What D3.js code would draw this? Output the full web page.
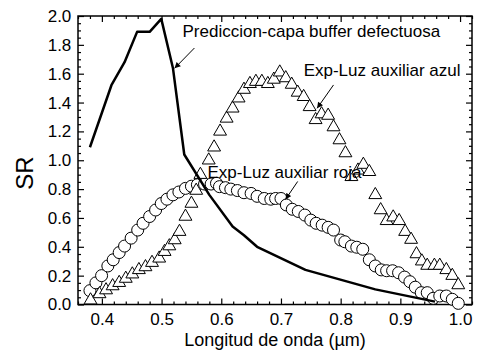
<!DOCTYPE html>
<html>
<head>
<meta charset="utf-8">
<script src="https://cdn.jsdelivr.net/npm/d3@7"></script>
<style>
  body { margin: 0; background: #fff; }
  text { font-family: "Liberation Sans", Arial, sans-serif; fill: #000; }
</style>
</head>
<body>
<div id="chart"></div>
<script>
// Prediccion-capa buffer defectuosa (line)
var pred_wl = [0.38, 0.416, 0.438, 0.459, 0.48, 0.4995, 0.519, 0.538, 0.58, 0.619, 0.638, 0.66, 0.741, 0.81, 0.858, 0.958];
var pred_sr = [1.09, 1.52, 1.68, 1.89, 1.89, 1.98, 1.64, 1.04, 0.76, 0.54, 0.48, 0.40, 0.24, 0.16, 0.105, 0.02];

// Exp-Luz auxiliar azul (triangles)
var azul_wl = [0.381, 0.396, 0.407, 0.418, 0.429, 0.44, 0.451, 0.462, 0.473, 0.484, 0.496, 0.505, 0.513,
	       0.522, 0.53, 0.54, 0.55, 0.558, 0.565, 0.579, 0.588, 0.598, 0.609, 0.619, 0.629, 0.638,
	       0.648, 0.658, 0.668, 0.678, 0.688, 0.698, 0.708, 0.718, 0.728, 0.738, 0.748, 0.758,
	       0.768, 0.779, 0.788, 0.798, 0.808, 0.818, 0.829, 0.838, 0.848, 0.858, 0.867, 0.877,
	       0.888, 0.898, 0.908, 0.918, 0.927, 0.936, 0.945, 0.957, 0.966, 0.977, 0.987, 0.997];
var azul_sr = [0.03, 0.073, 0.10, 0.128, 0.151, 0.18, 0.21, 0.24, 0.26, 0.29, 0.32, 0.366, 0.405,
	       0.447, 0.505, 0.61, 0.70, 0.79, 0.90, 1.00, 1.09, 1.20, 1.29, 1.36, 1.43, 1.49,
	       1.53, 1.545, 1.545, 1.53, 1.56, 1.61, 1.57, 1.525, 1.47, 1.44, 1.37, 1.28,
	       1.32, 1.31, 1.23, 1.14, 1.05, 0.885, 0.93, 0.97, 0.92, 0.76, 0.655, 0.58,
	       0.605, 0.58, 0.505, 0.45, 0.35, 0.30, 0.27, 0.27, 0.27, 0.24, 0.20, 0.135];

// Exp-Luz auxiliar roja (circles)
var roja_wl = [0.38, 0.39, 0.3995, 0.41, 0.419, 0.429, 0.438, 0.449, 0.46, 0.469, 0.48, 0.49, 0.4995,
	       0.509, 0.519, 0.529, 0.54, 0.55, 0.56, 0.572, 0.583, 0.592, 0.597, 0.607, 0.616, 0.627,
	       0.638, 0.65, 0.66, 0.672, 0.683, 0.691, 0.70, 0.709, 0.719, 0.729, 0.74, 0.75, 0.759,
	       0.769, 0.779, 0.788, 0.80, 0.807, 0.818, 0.827, 0.837, 0.848, 0.858, 0.868, 0.877,
	       0.887, 0.897, 0.907, 0.916, 0.925, 0.935, 0.945, 0.955, 0.966, 0.977, 0.987, 0.997];
var roja_sr = [0.096, 0.15, 0.20, 0.267, 0.31, 0.36, 0.405, 0.46, 0.516, 0.563, 0.61, 0.655, 0.70,
	       0.73, 0.76, 0.78, 0.805, 0.82, 0.83, 0.835, 0.835, 0.84, 0.817, 0.81, 0.80, 0.79,
	       0.775, 0.77, 0.75, 0.735, 0.73, 0.735, 0.735, 0.69, 0.66, 0.645, 0.62, 0.585, 0.563,
	       0.55, 0.535, 0.516, 0.447, 0.435, 0.405, 0.397, 0.383, 0.31, 0.267, 0.24, 0.234,
	       0.234, 0.22, 0.19, 0.158, 0.12, 0.082, 0.082, 0.043, 0.059, 0.059, 0.036, 0.008];

var x_ticks = [0.4, 0.5, 0.6, 0.7, 0.8, 0.9, 1.0];
var y_ticks = [0.0, 0.2, 0.4, 0.6, 0.8, 1.0, 1.2, 1.4, 1.6, 1.8, 2.0];

// annotations: text anchor and arrow (from -> to) in data units
var notes = [
    {label: "Prediccion-capa buffer defectuosa", tx: 0.535, ty: 1.857, x1: 0.555, y1: 1.778, x2: 0.5217, y2: 1.637},
    {label: "Exp-Luz auxiliar azul", tx: 0.738, ty: 1.584, x1: 0.788, y1: 1.522, x2: 0.7605, y2: 1.36},
    {label: "Exp-Luz auxiliar roja", tx: 0.577, ty: 0.875, x1: 0.728, y1: 0.853, x2: 0.7075, y2: 0.728}
];

var W = 477, H = 352;
var margin = {top: 16, right: 5, bottom: 47.5, left: 78};
var width = W - margin.left - margin.right;
var height = H - margin.top - margin.bottom;

var svg = d3.select("#chart")
    .append("svg")
    .attr("width", W)
    .attr("height", H);

svg.append("defs")
    .append("marker")
    .attr("id", "arrow")
    .attr("viewBox", "0 0 10 10")
    .attr("refX", 10)
    .attr("refY", 5)
    .attr("markerWidth", 7)
    .attr("markerHeight", 6)
    .attr("markerUnits", "userSpaceOnUse")
    .attr("orient", "auto")
    .append("path")
    .attr("d", "M0,0 L10,5 L0,10 Z")
    .attr("fill", "#000");

var g = svg.append("g")
    .attr("transform", "translate(" + margin.left + "," + margin.top + ")");

var x = d3.scaleLinear().domain([0.36, 1.02]).range([0, width]);
var y = d3.scaleLinear().domain([0, 2]).range([height, 0]);

var minor_x = d3.range(0.36, 1.021, 0.02).filter(v => Math.abs(v * 10 - Math.round(v * 10)) > 0.01);
var minor_y = d3.range(0.05, 2.0, 0.05).filter(v => Math.abs(v * 5 - Math.round(v * 5)) > 0.01);

function axis_ticks(axis, vals, size) {
    return axis.tickValues(vals).tickSizeInner(size).tickSizeOuter(0).tickPadding(5);
}

// bottom
g.append("g")
    .attr("transform", "translate(0," + height + ")")
    .call(axis_ticks(d3.axisBottom(x), x_ticks, -6).tickFormat(d3.format(".1f")))
    .call(a => a.selectAll("text").attr("font-size", 17).attr("dy", "0.9em"));
g.append("g")
    .attr("transform", "translate(0," + height + ")")
    .call(axis_ticks(d3.axisBottom(x), minor_x, -3).tickFormat(""));
// top
g.append("g")
    .call(axis_ticks(d3.axisTop(x), x_ticks, -6).tickFormat(""));
g.append("g")
    .call(axis_ticks(d3.axisTop(x), minor_x, -3).tickFormat(""));
// left
g.append("g")
    .call(axis_ticks(d3.axisLeft(y), y_ticks, -6).tickFormat(d3.format(".1f")))
    .call(a => a.selectAll("text").attr("font-size", 17).attr("dx", "-0.1em"));
g.append("g")
    .call(axis_ticks(d3.axisLeft(y), minor_y, -3).tickFormat(""));
// right
g.append("g")
    .attr("transform", "translate(" + width + ",0)")
    .call(axis_ticks(d3.axisRight(y), y_ticks, -6).tickFormat(""));
g.append("g")
    .attr("transform", "translate(" + width + ",0)")
    .call(axis_ticks(d3.axisRight(y), minor_y, -3).tickFormat(""));

g.selectAll(".domain").remove();
g.selectAll(".tick line").attr("stroke", "#000").attr("stroke-width", 1.2);

g.append("rect")
    .attr("width", width)
    .attr("height", height)
    .attr("fill", "none")
    .attr("stroke", "#000")
    .attr("stroke-width", 1.5);

// circles
g.selectAll(".roja")
    .data(roja_wl)
    .enter()
    .append("circle")
    .attr("class", "roja")
    .attr("cx", d => x(d))
    .attr("cy", (d, i) => y(roja_sr[i]))
    .attr("r", 6)
    .attr("fill", "#fff")
    .attr("stroke", "#000")
    .attr("stroke-width", 1);

// triangles
var tri = d3.symbol().type(d3.symbolTriangle).size(72);
g.selectAll(".azul")
    .data(azul_wl)
    .enter()
    .append("path")
    .attr("class", "azul")
    .attr("d", tri)
    .attr("transform", (d, i) => "translate(" + x(d) + "," + y(azul_sr[i]) + ")")
    .attr("fill", "#fff")
    .attr("stroke", "#000")
    .attr("stroke-width", 1);

// prediction line
var line = d3.line()
    .x(d => x(d))
    .y((d, i) => y(pred_sr[i]));
g.append("path")
    .datum(pred_wl)
    .attr("d", line)
    .attr("fill", "none")
    .attr("stroke", "#000")
    .attr("stroke-width", 2.5)
    .attr("stroke-linejoin", "round");

// annotations
notes.forEach(function (n) {
    g.append("text")
	.attr("x", x(n.tx))
	.attr("y", y(n.ty))
	.attr("font-size", 17)
	.text(n.label);
    g.append("line")
	.attr("x1", x(n.x1))
	.attr("y1", y(n.y1))
	.attr("x2", x(n.x2))
	.attr("y2", y(n.y2))
	.attr("stroke", "#000")
	.attr("stroke-width", 1)
	.attr("marker-end", "url(#arrow)");
});

// axis labels
svg.append("text")
    .attr("x", margin.left + width / 2)
    .attr("y", 346)
    .attr("text-anchor", "middle")
    .attr("font-size", 18)
    .text("Longitud de onda (\u00b5m)");

svg.append("text")
    .attr("transform", "translate(33," + (margin.top + 157) + ") rotate(-90)")
    .attr("text-anchor", "middle")
    .attr("font-size", 24)
    .text("SR");
</script>
</body>
</html>
